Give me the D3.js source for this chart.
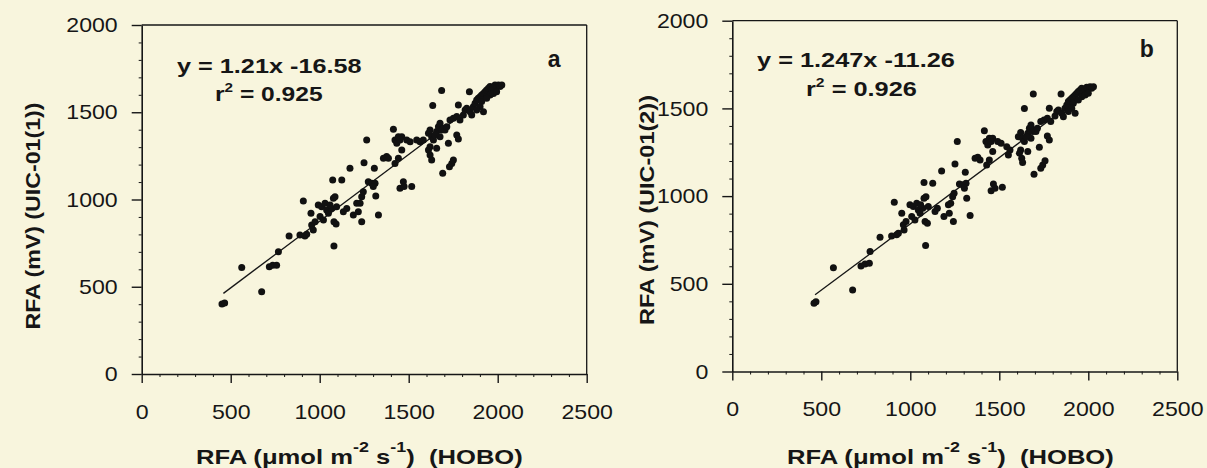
<!DOCTYPE html>
<html><head><meta charset="utf-8">
<script src="https://cdn.jsdelivr.net/npm/d3@7"></script>
<style>
html,body{margin:0;padding:0;background:#f8f5dd;}
svg{display:block;}
text{font-family:"Liberation Sans",Arial,Helvetica,sans-serif;fill:#161616;}
</style></head><body>
<svg id="chart" width="1207" height="468"></svg>
<script>
// ---- data ----
const xTicks = [0, 500, 1000, 1500, 2000, 2500];
const yTicks = [0, 500, 1000, 1500, 2000];

const hoboA = [451,466,562,674,717,736,758,768,828,889,917,927,908,951,964,955,974,992,1011,1030,1039,1002,1021,1049,1067,1077,1086,1095,1080,1092,1058,1080,1073,1124,1133,1152,1170,1189,1208,1227,1236,1245,1217,1236,1249,1264,1273,1292,1311,1301,1307,1315,1330,1358,1376,1386,1414,1423,1433,1442,1461,1451,1423,1442,1461,1470,1451,1474,1517,1489,1508,1545,1564,1582,1611,1620,1629,1639,1657,1667,1676,1685,1695,1704,1714,1676,1648,1620,1611,1620,1629,1657,1685,1635,1723,1729,1742,1751,1691,1770,1779,1732,1751,1770,1779,1788,1807,1817,1826,1841,1845,1854,1863,1873,1882,1891,1901,1910,1920,1929,1938,1948,1957,1966,1976,1985,1994,2004,2013,2023,1920,1910,1957,1976,1994,1901,1882,1938];
const uicA = [401,407,610,472,615,623,623,701,791,797,791,801,991,921,825,854,873,969,959,978,940,902,883,921,949,1007,1016,959,873,860,969,734,1112,1112,930,949,1179,911,978,978,1016,1045,930,873,1211,1341,1102,1093,1093,1074,1179,1020,911,1236,1246,1236,1402,1341,1322,1360,1360,1341,1207,1236,1284,1102,1064,1074,1074,1341,1331,1341,1331,1341,1379,1398,1360,1341,1389,1417,1437,1398,1408,1398,1417,1360,1370,1303,1284,1255,1226,1293,1624,1538,1322,1188,1207,1226,1150,1370,1347,1456,1465,1475,1542,1456,1484,1513,1523,1618,1503,1484,1532,1551,1570,1580,1589,1599,1608,1618,1628,1637,1647,1631,1643,1656,1647,1656,1647,1656,1503,1561,1599,1608,1618,1532,1513,1580];

const hoboB = [459,470,568,676,723,746,770,774,830,895,923,933,910,952,965,961,976,998,1017,1036,1045,1008,1026,1055,1070,1077,1088,1101,1083,1096,1058,1086,1077,1126,1139,1152,1176,1189,1214,1227,1238,1246,1219,1242,1251,1264,1276,1294,1313,1304,1309,1317,1336,1364,1379,1392,1416,1425,1435,1444,1463,1454,1429,1444,1463,1467,1454,1476,1517,1491,1510,1542,1560,1551,1607,1620,1631,1641,1660,1669,1678,1688,1697,1706,1714,1678,1650,1620,1613,1626,1631,1660,1691,1641,1725,1733,1744,1757,1695,1770,1781,1733,1751,1770,1781,1789,1813,1823,1832,1847,1851,1860,1869,1879,1888,1897,1907,1916,1926,1935,1944,1954,1963,1972,1982,1991,2000,2010,2019,2029,1926,1916,1963,1982,2000,1907,1888,1944];
const uicB = [389,398,592,465,602,613,617,684,765,773,779,788,965,902,807,836,855,950,940,959,921,883,864,902,931,988,997,940,855,845,950,718,1077,1073,912,931,1143,883,950,959,997,1016,902,855,1183,1311,1069,1064,1073,1045,1136,988,889,1216,1221,1206,1373,1311,1292,1330,1330,1311,1178,1206,1254,1069,1031,1045,1050,1311,1301,1282,1263,1235,1339,1362,1330,1311,1358,1387,1406,1368,1377,1368,1387,1330,1339,1263,1244,1216,1191,1254,1582,1500,1278,1159,1178,1202,1124,1343,1320,1425,1434,1444,1501,1425,1457,1482,1491,1582,1472,1453,1501,1520,1539,1548,1558,1567,1577,1586,1596,1605,1615,1596,1609,1620,1609,1624,1615,1624,1472,1529,1567,1577,1586,1501,1482,1548];

// fitted line end points as drawn
const fitAX = [459, 2013], fitAY = [462, 1651];
const fitBX = [465, 2010], fitBY = [437, 1605];

const eqA = "y = 1.21x -16.58", r2A = "0.925", labelA = "a", yTitleA = "RFA (mV) (UIC-01(1))";
const eqB = "y = 1.247x -11.26", r2B = "0.926", labelB = "b", yTitleB = "RFA (mV) (UIC-01(2))";

// ---- drawing ----
const svg = d3.select("#chart");
const INK = "#161616";

function stretchLabels(sel, f) {
  sel.each(function () {
    const l = this.getComputedTextLength();
    this.setAttribute("textLength", (l * f).toFixed(1));
    this.setAttribute("lengthAdjust", "spacingAndGlyphs");
  });
}
function fitWidth(node, target) {
  const w = node.getBBox().width;
  return target / w;
}

function drawPanel(o) {
  const g = svg.append("g").attr("transform", `translate(${o.left},${o.top})`);
  const x = d3.scaleLinear().domain([0, 2500]).range([0, o.w]);
  const y = d3.scaleLinear().domain([0, 2000]).range([o.h, 0]);
  const fmt = d3.format("d");

  // minor ticks
  const minY = d3.range(0, 2001, 100).filter(v => v % 500 !== 0);
  const minX = d3.range(0, 2501, 100).filter(v => v % 500 !== 0);
  const gmy = g.append("g").call(d3.axisLeft(y).tickValues(minY).tickSize(3).tickFormat(""));
  gmy.select(".domain").remove();
  const gmx = g.append("g").attr("transform", `translate(0,${o.h})`)
    .call(d3.axisBottom(x).tickValues(minX).tickSize(3).tickFormat(""));
  gmx.select(".domain").remove();
  [gmy, gmx].forEach(s => s.selectAll("line").attr("stroke", INK).attr("stroke-width", 1));

  // major axes
  const gy = g.append("g").call(d3.axisLeft(y).tickValues(yTicks).tickFormat(fmt)
    .tickSize(10).tickSizeOuter(0).tickPadding(14));
  const gx = g.append("g").attr("transform", `translate(0,${o.h})`)
    .call(d3.axisBottom(x).tickValues(xTicks).tickFormat(fmt)
    .tickSize(9).tickSizeOuter(0).tickPadding(21));
  [gy, gx].forEach(s => {
    s.select(".domain").attr("stroke", INK).attr("stroke-width", 1.6);
    s.selectAll(".tick line").attr("stroke", INK).attr("stroke-width", 1.4);
    s.selectAll("text").attr("font-size", 21).attr("font-family", '"Liberation Sans",Arial,sans-serif').attr("fill", INK);
    stretchLabels(s.selectAll("text"), 1.1);
  });

  // top and right frame
  g.append("line").attr("x1", 0).attr("x2", o.w).attr("y1", y(2000)).attr("y2", y(2000))
    .attr("stroke", INK).attr("stroke-width", 1.3);
  g.append("line").attr("x1", x(2500)).attr("x2", x(2500)).attr("y1", y(2000)).attr("y2", o.h)
    .attr("stroke", INK).attr("stroke-width", 1.3);

  // fitted line
  g.append("line")
    .attr("x1", x(o.fx[0])).attr("y1", y(o.fy[0]))
    .attr("x2", x(o.fx[1])).attr("y2", y(o.fy[1]))
    .attr("stroke", INK).attr("stroke-width", 1.3);

  // points
  const pts = d3.range(Math.min(o.xs.length, o.ys.length)).map(i => [o.xs[i], o.ys[i]]);
  g.append("g").selectAll("circle").data(pts).join("circle")
    .attr("cx", d => x(d[0])).attr("cy", d => y(d[1])).attr("r", 3.5).attr("fill", "#111");

  // equation
  const t1 = g.append("text").attr("font-weight", "bold").attr("font-size", 21)
    .attr("transform", `translate(${o.eq1[0]},${o.eq1[1]})`).text(o.eq);
  t1.attr("transform", `translate(${o.eq1[0]},${o.eq1[1]}) scale(${fitWidth(t1.node(), o.eq1[2])},1)`);
  const t2 = g.append("text").attr("font-weight", "bold").attr("font-size", 21)
    .attr("transform", `translate(${o.eq2[0]},${o.eq2[1]})`);
  t2.append("tspan").text("r");
  t2.append("tspan").attr("font-size", 13).attr("dy", -9).text("2");
  t2.append("tspan").attr("dy", 9).text(" = " + o.r2);
  t2.attr("transform", `translate(${o.eq2[0]},${o.eq2[1]}) scale(${fitWidth(t2.node(), o.eq2[2])},1)`);

  // panel letter
  g.append("text").attr("font-weight", "bold").attr("font-size", 23)
    .attr("x", o.lab[0]).attr("y", o.lab[1]).text(o.label);

  // y title
  const yt = g.append("text").attr("font-weight", "bold").attr("font-size", 21)
    .attr("text-anchor", "middle")
    .attr("transform", `translate(${o.yt[0]},${o.yt[1]}) rotate(-90)`).text(o.yTitle);
  yt.attr("transform", `translate(${o.yt[0]},${o.yt[1]}) rotate(-90) scale(${fitWidth(yt.node(), o.yt[2])},1)`);

  // x title
  const xt = g.append("text").attr("font-weight", "bold").attr("font-size", 20)
    .style("white-space", "pre")
    .attr("transform", `translate(${o.xt[0]},${o.xt[1]})`);
  xt.append("tspan").text("RFA (\u03bcmol m");
  xt.append("tspan").attr("font-size", 14).attr("dy", -12).text("-2");
  xt.append("tspan").attr("dy", 12).text(" s");
  xt.append("tspan").attr("font-size", 14).attr("dy", -12).text("-1");
  xt.append("tspan").attr("dy", 12).text(")  (HOBO)");
  xt.attr("transform", `translate(${o.xt[0]},${o.xt[1]}) scale(${fitWidth(xt.node(), o.xt[2])},1)`);
}

drawPanel({
  left: 141.7, top: 25, w: 445, h: 349,
  xs: hoboA, ys: uicA, fx: fitAX, fy: fitAY,
  eq: eqA, r2: r2A, label: labelA, yTitle: yTitleA,
  eq1: [35.3, 48, 185], eq2: [73.3, 76, 108],
  lab: [406, 42], yt: [-101.7, 191, 227], xt: [54.3, 439, 327]
});
drawPanel({
  left: 732.3, top: 20.7, w: 445, h: 350.8,
  xs: hoboB, ys: uicB, fx: fitBX, fy: fitBY,
  eq: eqB, r2: r2B, label: labelB, yTitle: yTitleB,
  eq1: [24.7, 46.3, 198], eq2: [73.7, 75.3, 111],
  lab: [407.5, 36.3], yt: [-78, 189.3, 230], xt: [54.7, 443.3, 327]
});
</script>
</body></html>
